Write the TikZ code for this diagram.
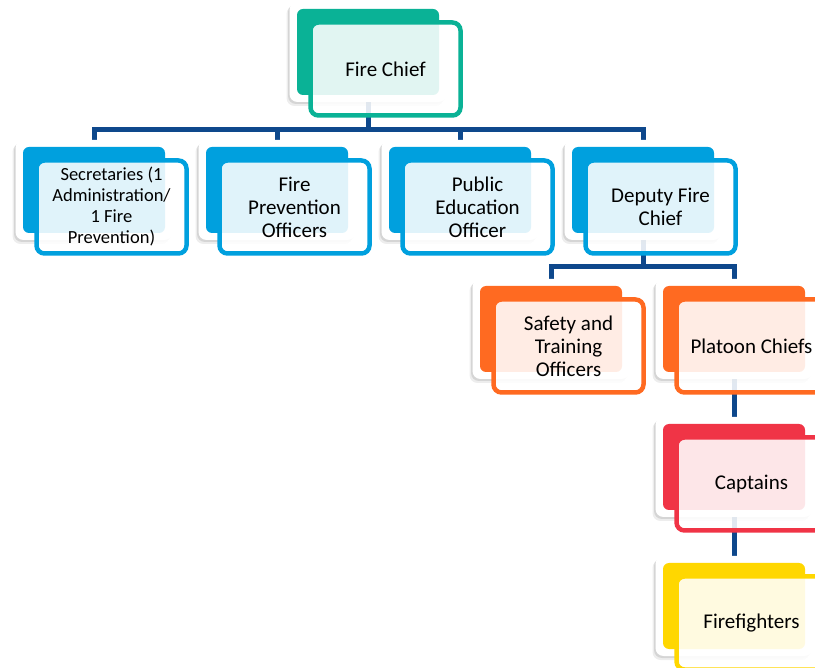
\documentclass[tikz,border=0pt]{standalone}
\usepackage{fontspec}
\setmainfont{Carlito}
\usetikzlibrary{shadows}
\definecolor{chiefteal}{RGB}{10,178,150}
\definecolor{staffblue}{RGB}{0,160,222}
\definecolor{opsorange}{RGB}{255,106,33}
\definecolor{captred}{RGB}{240,52,70}
\definecolor{crewyellow}{RGB}{255,215,0}
\definecolor{linknavy}{RGB}{14,72,140}
\pgfdeclarelayer{background}
\pgfsetlayers{background,main}

\begin{document}
\begin{tikzpicture}[x=1pt,y=-1pt,
    unitframe/.style={rectangle,rounded corners=8pt,fill=white,inner sep=0pt,
      minimum width=157pt,minimum height=100pt,
      drop shadow={shadow xshift=-3pt,shadow yshift=-4pt,opacity=.07,fill=black},
      drop shadow={shadow xshift=-1.5pt,shadow yshift=-2pt,opacity=.1,fill=black}},
    unitback/.style={rectangle,rounded corners=6pt,fill=#1,inner sep=0pt,
      minimum width=142pt,minimum height=86pt},
    unitpanel/.style={rectangle,rounded corners=8pt,draw=#1,line width=4.5pt,
      fill=white,fill opacity=.88,text opacity=1,inner sep=2pt,align=center,
      minimum width=150pt,minimum height=93pt,xshift=17.5pt,yshift=-17pt,
      font=\fontsize{21}{23}\selectfont},
    conn/.style={draw=linknavy,line width=5pt}]
    \useasboundingbox (0,0) rectangle (815,668);
    \clip (0,0) rectangle (815,668);
    % top
    \node[unitframe] (chief) at (368,52) {};
    \node[unitback=chiefteal] at (chief) {};
    \node[unitpanel=chiefteal] at (chief) {Fire Chief};
    % staff row
    \node[unitframe] (secr) at (94,190) {};
    \node[unitback=staffblue] at (secr) {};
    \node[unitpanel=staffblue,font=\fontsize{18.5}{21}\selectfont] at (secr)
      {Secretaries (1\\Administration/\\1 Fire\\Prevention)};
    \node[unitframe] (prev) at (277,190) {};
    \node[unitback=staffblue] at (prev) {};
    \node[unitpanel=staffblue] at (prev) {Fire\\Prevention\\Officers};
    \node[unitframe] (educ) at (460,190) {};
    \node[unitback=staffblue] at (educ) {};
    \node[unitpanel=staffblue] at (educ) {Public\\Education\\Officer};
    \node[unitframe] (depty) at (643,190) {};
    \node[unitback=staffblue] at (depty) {};
    \node[unitpanel=staffblue] at (depty) {Deputy Fire\\Chief};
    % under the deputy
    \node[unitframe] (safety) at (551,329) {};
    \node[unitback=opsorange] at (safety) {};
    \node[unitpanel=opsorange] at (safety) {Safety and\\Training\\Officers};
    \node[unitframe] (platoon) at (734,329) {};
    \node[unitback=opsorange] at (platoon) {};
    \node[unitpanel=opsorange] at (platoon) {Platoon Chiefs};
    \node[unitframe] (capt) at (734,467) {};
    \node[unitback=captred] at (capt) {};
    \node[unitpanel=captred] at (capt) {Captains};
    \node[unitframe] (crew) at (734,606) {};
    \node[unitback=crewyellow] at (crew) {};
    \node[unitpanel=crewyellow] at (crew) {Firefighters};
    % links
    \begin{pgfonlayer}{background}
      \foreach \k in {secr,prev,educ,depty}
        \draw[conn] (chief.south) -- ++(0,27.5) -| (\k.north);
      \foreach \k in {safety,platoon}
        \draw[conn] (depty.south) -- ++(0,26.5) -| (\k.north);
      \draw[conn] (platoon) -- (capt);
      \draw[conn] (capt) -- (crew);
    \end{pgfonlayer}
  \end{tikzpicture}
\end{document}
